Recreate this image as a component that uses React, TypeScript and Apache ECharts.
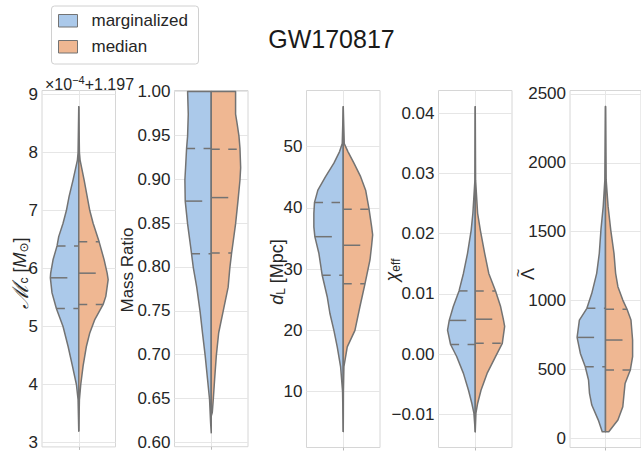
import React, { useEffect, useRef } from 'react';
import * as echarts from 'echarts';

// ---------- data ----------
const seriesNames = ['marginalized', 'median'];
const chartTitle = 'GW170817';

// Panel 1: chirp mass (display units, x1e-4 + 1.197)
const mcY_marg = [8.79, 8.39, 8.0, 7.87, 7.53, 7.24, 7.0, 6.78, 6.55, 6.39, 6.15, 5.92, 5.84, 5.58, 5.31, 5.0, 4.66, 4.32, 4.0, 3.74, 3.2];
const mcD_marg = [0, 1, 2, 4, 17, 29, 37, 47, 60, 65, 77, 84, 85, 80, 67, 47, 32, 19, 7, 2, 0];
const mcY_med = [8.79, 8.39, 8.0, 7.87, 7.53, 7.0, 6.78, 6.46, 6.15, 5.92, 5.81, 5.52, 5.38, 5.12, 4.89, 4.66, 4.32, 4.0, 3.74, 3.2];
const mcD_med = [0, 1, 2, 4, 16, 33, 43, 61, 76, 85, 88, 81, 73, 48, 33, 23, 13, 6, 2, 0];
const mcQ_marg = [5.31, 5.84, 6.39];
const mcQ_med = [5.38, 5.92, 6.46];
const mcTicks = [3, 4, 5, 6, 7, 8, 9];

// Panel 2: mass ratio
const qY_marg = [1.0, 0.974, 0.949, 0.935, 0.913, 0.899, 0.875, 0.849, 0.823, 0.799, 0.777, 0.749, 0.725, 0.699, 0.672, 0.649, 0.623, 0.611];
const qD_marg = [70, 68, 70, 73, 76, 78, 77, 70, 61, 53, 43, 33, 26, 18, 11, 5, 2, 0];
const qY_med = [1.0, 0.974, 0.962, 0.949, 0.935, 0.913, 0.899, 0.875, 0.849, 0.815, 0.799, 0.777, 0.749, 0.725, 0.699, 0.672, 0.649, 0.634, 0.63];
const qD_med = [72, 72, 77, 82, 85, 87, 85, 79, 72, 60, 55, 50, 35, 22, 15, 10, 6, 3, 0];
const qQ_marg = [0.815, 0.875, 0.935];
const qQ_med = [0.816, 0.879, 0.934];
const qTicks = [0.6, 0.65, 0.7, 0.75, 0.8, 0.85, 0.9, 0.95, 1.0];

// Panel 3: luminosity distance
const dY_marg = [56.5, 50.5, 49.2, 47.3, 45.1, 42.9, 40.9, 39.1, 36.9, 35.3, 32.6, 29.0, 25.5, 22.8, 20.0, 17.3, 14.1, 10.0, 6.5, 3.5];
const dD_marg = [0, 3, 11, 28, 53, 76, 86, 88, 88, 85, 73, 63, 48, 40, 28, 18, 8, 2, 1, 0];
const dY_med = [56.5, 50.5, 49.2, 47.3, 45.1, 42.9, 39.9, 36.9, 35.6, 33.9, 31.5, 27.6, 23.9, 20.0, 17.3, 14.1, 10.0, 6.5, 3.5];
const dD_med = [0, 3, 14, 32, 52, 67, 77, 85, 88, 85, 80, 65, 50, 35, 12, 2, 0.5, 0.3, 0];
const dQ_marg = [29.0, 35.3, 40.9];
const dQ_med = [27.6, 33.9, 39.8];
const dTicks = [10, 20, 30, 40, 50];

// Panel 4: effective spin
const cY_marg = [0.0411, 0.0289, 0.0234, 0.0206, 0.0167, 0.0134, 0.0105, 0.0079, 0.0056, 0.004, 0.0016, -0.0004, -0.0032, -0.006, -0.0082, -0.0098, -0.0129];
const cD_marg = [0, 1, 7, 12, 23, 35, 48, 65, 77, 82, 73, 55, 35, 20, 10, 4, 0];
const cY_med = [0.0411, 0.0289, 0.0234, 0.0206, 0.0167, 0.0134, 0.0105, 0.0079, 0.0058, 0.0046, 0.0018, -0.0004, -0.0032, -0.006, -0.0082, -0.0098, -0.0129];
const cD_med = [0, 1, 7, 15, 28, 40, 60, 75, 83, 87, 80, 60, 35, 17, 7, 2, 0];
const cQ_marg = [0.0016, 0.0056, 0.0105];
const cQ_med = [0.0018, 0.0058, 0.0105];
const cTicks = [-0.01, 0, 0.01, 0.02, 0.03, 0.04];

// Panel 5: tidal deformability
const lY_marg = [2408, 1876, 1682, 1513, 1343, 1198, 1053, 944, 859, 733, 617, 520, 424, 327, 242, 133, 48];
const lD_marg = [0, 2, 7, 14, 19, 27, 42, 57, 80, 87, 77, 62, 52, 49, 42, 22, 10];
const lY_med = [2408, 1876, 1682, 1513, 1343, 1198, 1101, 1004, 937, 859, 714, 593, 496, 399, 303, 230, 133, 48];
const lD_med = [0, 2, 8, 16, 26, 31, 38, 53, 66, 78, 83, 83, 76, 60, 56, 53, 38, 10];
const lQ_marg = [520, 733, 944];
const lQ_med = [496, 714, 937];
const lTicks = [0, 500, 1000, 1500, 2000, 2500];

// ---------- styling ----------
const FONT = "'Liberation Sans', Arial, Helvetica, sans-serif";
const TEXT = '#262626';
const EDGE = '#737373';
const BLUE = '#abc9ea';
const ORANGE = '#efb792';
const GRIDC = '#e6e6e6';
const FRAME = '#d6d6d6';

const GRID_TOP = 90.5;
const GRID_H = 357;
const GRID_W = 73.5;
const GRID_LEFTS = [42, 174.5, 306.5, 438.5, 570];

type Half = { y: number[]; d: number[]; q: number[] };
type Panel = {
  marg: Half; med: Half; ticks: number[]; min: number; max: number;
  fmt: (v: number) => string;
};

const panels: Panel[] = [
  { marg: { y: mcY_marg, d: mcD_marg, q: mcQ_marg }, med: { y: mcY_med, d: mcD_med, q: mcQ_med }, ticks: mcTicks, min: 2.924, max: 9.07, fmt: (v) => String(Math.round(v)) },
  { marg: { y: qY_marg, d: qD_marg, q: qQ_marg }, med: { y: qY_med, d: qD_med, q: qQ_med }, ticks: qTicks, min: 0.5952, max: 1.001, fmt: (v) => v.toFixed(2) },
  { marg: { y: dY_marg, d: dD_marg, q: dQ_marg }, med: { y: dY_med, d: dD_med, q: dQ_med }, ticks: dTicks, min: 0.88, max: 59.17, fmt: (v) => String(Math.round(v)) },
  { marg: { y: cY_marg, d: cD_marg, q: cQ_marg }, med: { y: cY_med, d: cD_med, q: cQ_med }, ticks: cTicks, min: -0.01551, max: 0.04379, fmt: (v) => v.toFixed(2).replace('-', '\u2212') },
  { marg: { y: lY_marg, d: lD_marg, q: lQ_marg }, med: { y: lY_med, d: lD_med, q: lQ_med }, ticks: lTicks, min: -66, max: 2525, fmt: (v) => String(Math.round(v)) },
];

function widthAt(ys: number[], ds: number[], v: number): number {
  for (let k = 0; k < ys.length - 1; k++) {
    const a = ys[k];
    const b = ys[k + 1];
    if ((v - a) * (v - b) <= 0) {
      const t = b === a ? 0 : (v - a) / (b - a);
      return ds[k] + t * (ds[k + 1] - ds[k]);
    }
  }
  return 0;
}

function makeRender(half: Half, side: number, scale: number, fill: string) {
  return (_params: any, api: any) => {
    const pts = half.y.map((y, k) => api.coord([side * half.d[k] * scale, y]));
    pts.push(api.coord([0, half.y[half.y.length - 1]]));
    pts.push(api.coord([0, half.y[0]]));
    const children: any[] = [
      { type: 'polygon', shape: { points: pts }, style: { fill, stroke: EDGE, lineWidth: 1.5, lineJoin: 'round' } },
    ];
    half.q.forEach((qv, qi) => {
      const w = widthAt(half.y, half.d, qv) * scale;
      const s = side < 0 ? api.coord([-w, qv]) : api.coord([0, qv]);
      const e = side < 0 ? api.coord([0, qv]) : api.coord([w, qv]);
      children.push({
        type: 'line',
        shape: { x1: s[0], y1: s[1], x2: e[0], y2: e[1] },
        style: { stroke: EDGE, lineWidth: 1.5, lineDash: qi === 1 ? [17, 17] : [8.5, 8.5] },
      });
    });
    return { type: 'group', children };
  };
}

function buildOption() {
  const grid: any[] = [];
  const xAxis: any[] = [];
  const yAxis: any[] = [];
  const series: any[] = [];
  panels.forEach((p, i) => {
    grid.push({ left: GRID_LEFTS[i], top: GRID_TOP, width: GRID_W, height: GRID_H, show: true, borderColor: FRAME, borderWidth: 1, backgroundColor: '#fff' });
    xAxis.push({
      gridIndex: i, type: 'value', min: -0.5, max: 0.5, interval: 0.5, position: 'bottom',
      axisLine: { show: false, onZero: false }, axisLabel: { show: false },
      axisTick: { show: true, customValues: [0], length: 3, lineStyle: { color: '#bbbbbb' } },
      splitLine: { show: true, lineStyle: { color: GRIDC, width: 1 } },
    });
    yAxis.push({
      gridIndex: i, type: 'value', min: p.min, max: p.max, position: 'left',
      axisLine: { show: false, onZero: false },
      splitLine: { show: false },
      axisTick: { show: true, inside: true, length: GRID_W, customValues: p.ticks, lineStyle: { color: GRIDC, width: 1 } },
      axisLabel: { show: true, customValues: p.ticks, formatter: p.fmt, margin: 4, fontSize: 17, fontFamily: FONT, color: TEXT },
    });
    const maxD = Math.max(...p.marg.d, ...p.med.d);
    const scale = 0.4 / maxD;
    series.push({
      type: 'custom', name: seriesNames[0], xAxisIndex: i, yAxisIndex: i, data: [[0, 0]], silent: true, z: 3,
      renderItem: makeRender(p.marg, -1, scale, BLUE),
    });
    series.push({
      type: 'custom', name: seriesNames[1], xAxisIndex: i, yAxisIndex: i, data: [[0, 0]], silent: true, z: 3,
      renderItem: makeRender(p.med, 1, scale, ORANGE),
    });
  });

  const baseRich = {
    n: { fontSize: 18, fontFamily: FONT, fill: TEXT },
    i: { fontSize: 18, fontFamily: FONT, fontStyle: 'italic', fill: TEXT },
    m: { fontSize: 22, fontFamily: FONT, fontStyle: 'italic', fill: TEXT },
    s: { fontSize: 12, fontFamily: FONT, fill: TEXT, padding: [8, 0, 0, 0] },
    o: { fontSize: 12, fontFamily: 'DejaVu Sans', fill: TEXT, padding: [8, 0, 0, 0] },
  };
  const nameStyle = (text: string) => ({
    text, rich: baseRich, fontSize: 17, fontFamily: FONT, fill: TEXT, align: 'center', verticalAlign: 'middle',
  });
  const plainStyle = (text: string, size: number) => ({
    text, fontSize: size, fontFamily: FONT, fill: TEXT, align: 'center', verticalAlign: 'middle',
  });

  const graphic: any[] = [
    { type: 'text', x: 331.5, y: 38.5, style: { text: chartTitle, fontSize: 25, fontFamily: FONT, fill: '#1a1a1a', align: 'center', verticalAlign: 'middle' } },
    { type: 'rect', shape: { x: 51.5, y: 6, width: 147, height: 58, r: 3 }, style: { fill: '#ffffff', stroke: '#d0d0d0', lineWidth: 1 } },
    { type: 'rect', shape: { x: 58.5, y: 14.5, width: 19, height: 12.5 }, style: { fill: BLUE, stroke: EDGE, lineWidth: 1 } },
    { type: 'text', x: 91.5, y: 20.5, style: { text: seriesNames[0], fontSize: 17, fontFamily: FONT, fill: TEXT, align: 'left', verticalAlign: 'middle' } },
    { type: 'rect', shape: { x: 58.5, y: 40.5, width: 19, height: 12.5 }, style: { fill: ORANGE, stroke: EDGE, lineWidth: 1 } },
    { type: 'text', x: 91.5, y: 46.5, style: { text: seriesNames[1], fontSize: 17, fontFamily: FONT, fill: TEXT, align: 'left', verticalAlign: 'middle' } },
    {
      type: 'text', x: 45, y: 84,
      style: {
        text: '{a|\u00d710}{u|\u22124}{a|+1.197}', fontFamily: FONT, fill: TEXT, align: 'left', verticalAlign: 'middle',
        rich: { a: { fontSize: 16, fontFamily: FONT, fill: TEXT }, u: { fontSize: 11, fontFamily: FONT, fill: TEXT, padding: [0, 0, 8, 0] } },
      },
    },
    { type: 'text', x: 20, y: 273, rotation: Math.PI / 2, style: nameStyle('{m|\u2133}{s|c}{n| [}{i|M}{o|\u2299}{n|]}') },
    { type: 'text', x: 127, y: 270, rotation: Math.PI / 2, style: plainStyle('Mass Ratio', 17) },
    { type: 'text', x: 277, y: 272, rotation: Math.PI / 2, style: nameStyle('{i|d}{s|L}{n| [Mpc]}') },
    { type: 'text', x: 392, y: 270, rotation: Math.PI / 2, style: nameStyle('{i|\u03c7}{s|eff}') },
    { type: 'text', x: 528, y: 274, rotation: Math.PI / 2, style: plainStyle('\u039b', 18) },
    { type: 'text', x: 518, y: 273, rotation: Math.PI / 2, style: plainStyle('~', 14) },
  ];

  return {
    animation: false,
    backgroundColor: '#ffffff',
    grid, xAxis, yAxis, series, graphic,
  };
}

export default function App() {
  const ref = useRef<HTMLDivElement>(null);
  useEffect(() => {
    if (!ref.current) return;
    const chart = echarts.init(ref.current, undefined, { renderer: 'svg' });
    chart.setOption(buildOption() as any);
    return () => chart.dispose();
  }, []);
  return <div ref={ref} style={{ position: 'absolute', left: 0, top: 0, width: 641, height: 451 }} />;
}
